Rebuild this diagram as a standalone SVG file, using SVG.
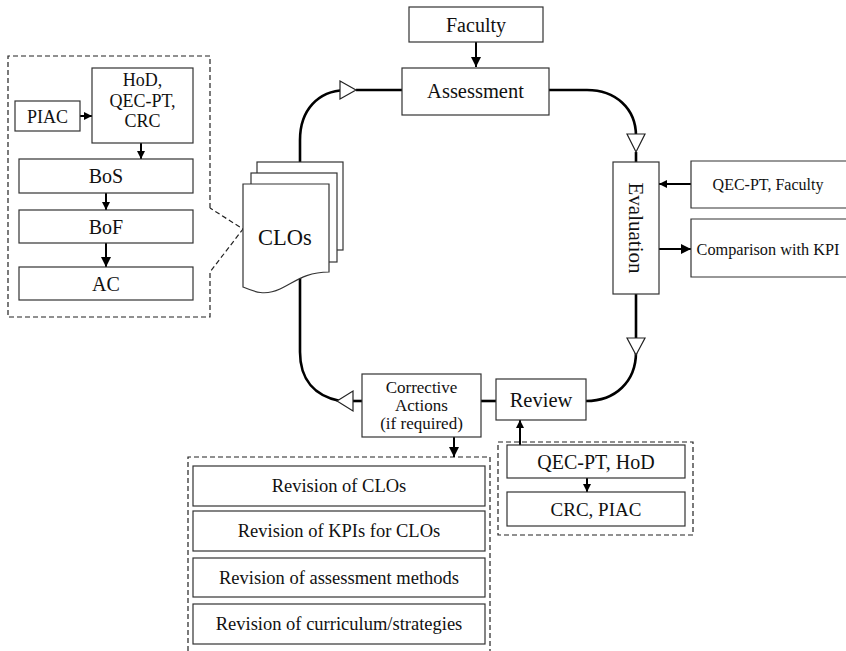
<svg xmlns="http://www.w3.org/2000/svg" width="846" height="651" viewBox="0 0 846 651">
  <defs>
    <marker id="head" markerUnits="userSpaceOnUse" markerWidth="11" markerHeight="11" refX="10" refY="5" orient="auto">
      <path d="M0,0 L10,5 L0,10 Z" fill="#000"/>
    </marker>
    <marker id="headSm" markerUnits="userSpaceOnUse" markerWidth="9" markerHeight="9" refX="8" refY="4" orient="auto">
      <path d="M0,0 L8,4 L0,8 Z" fill="#000"/>
    </marker>
  </defs>
  <style>
    .box { fill: #fff; stroke: #333; stroke-width: 1.2; }
    .dash { fill: none; stroke: #222; stroke-width: 1.2; stroke-dasharray: 5 3; }
    .loop { fill: none; stroke: #000; stroke-width: 2.6; }
    .tri { fill: #fff; stroke: #222; stroke-width: 1.2; }
    .arr { fill: none; stroke: #000; stroke-width: 2; }
    text { font-family: "Liberation Serif", "Times New Roman", serif; fill: #111; text-anchor: middle; }
  </style>
  <rect width="846" height="651" fill="#fff"/>

  <!-- dashed group frames -->
  <g id="frames">
    <path class="dash" d="M210,208 V56 H8 V317 H210 V272 L243,229 L210,208"/>
    <path class="dash" d="M188,651 V457 H490 V651"/>
    <rect class="dash" x="498" y="442" width="195" height="93"/>
  </g>

  <!-- connectors -->
  <g id="connectors">
    <!-- main cycle -->
    <path class="loop" d="M300,163 V140 C300,110 318,91 345,90"/>
    <line class="loop" x1="356" y1="90" x2="402" y2="90"/>
    <path class="loop" d="M549,90 H587 C615,90 636,108 636,136"/>
    <line class="loop" x1="636" y1="152" x2="636" y2="162"/>
    <line class="loop" x1="636" y1="294" x2="636" y2="340"/>
    <path class="loop" d="M636,352 C636,382 615,401 586,401"/>
    <line class="loop" x1="481" y1="401" x2="496" y2="401"/>
    <line class="loop" x1="353" y1="401" x2="362" y2="401"/>
    <path class="loop" d="M300,278 V352 C300,380 315,396 340,401"/>
    <!-- hollow direction heads -->
    <polygon class="tri" points="340,81 356,90 340,99"/>
    <polygon class="tri" points="627,134 645,134 636,152"/>
    <polygon class="tri" points="627,338 645,338 636,355"/>
    <polygon class="tri" points="353,391 353,411 337,401"/>
    <!-- side arrows -->
    <line class="arr" x1="476" y1="42" x2="476" y2="67" marker-end="url(#head)"/>
    <line class="arr" x1="80" y1="116" x2="92" y2="116" marker-end="url(#headSm)"/>
    <line class="arr" x1="141" y1="143" x2="141" y2="159" marker-end="url(#headSm)"/>
    <line class="arr" x1="106" y1="193" x2="106" y2="210" marker-end="url(#headSm)"/>
    <line class="arr" x1="106" y1="243" x2="106" y2="267" marker-end="url(#head)"/>
    <line class="arr" x1="691" y1="184" x2="659" y2="184" marker-end="url(#headSm)"/>
    <line class="arr" x1="659" y1="249" x2="691" y2="249" marker-end="url(#head)"/>
    <line class="arr" x1="454" y1="437" x2="454" y2="457" marker-end="url(#head)"/>
    <line class="arr" x1="520" y1="445" x2="520" y2="420" marker-end="url(#headSm)"/>
    <line class="arr" x1="587" y1="478" x2="587" y2="492" marker-end="url(#headSm)"/>
  </g>

  <!-- approval chain -->
  <g id="piac">
    <rect class="box" x="15" y="101" width="65" height="30"/>
    <text x="47.5" y="122.5" font-size="18">PIAC</text>
  </g>
  <g id="hod-qec-crc">
    <rect class="box" x="92" y="68" width="101" height="75"/>
    <text x="142.5" y="86" font-size="18">HoD,</text>
    <text x="142.5" y="106.5" font-size="18">QEC-PT,</text>
    <text x="142.5" y="127" font-size="18">CRC</text>
  </g>
  <g id="bos">
    <rect class="box" x="19" y="159" width="174" height="34"/>
    <text x="106" y="183" font-size="20">BoS</text>
  </g>
  <g id="bof">
    <rect class="box" x="19" y="210" width="174" height="33"/>
    <text x="106" y="233.5" font-size="20">BoF</text>
  </g>
  <g id="ac">
    <rect class="box" x="19" y="267" width="174" height="33"/>
    <text x="106" y="290.5" font-size="20">AC</text>
  </g>

  <!-- CLOs document stack -->
  <g id="clos">
    <rect class="box" x="257" y="162" width="86" height="88"/>
    <rect class="box" x="251" y="173" width="86" height="89"/>
    <path class="box" d="M243,184 H329 V272 C305,272 295,282 280,289 C265,296 255,292 243,287 Z"/>
    <text x="285" y="245" font-size="22.5">CLOs</text>
  </g>

  <!-- cycle stages -->
  <g id="faculty">
    <rect class="box" x="409" y="7" width="134" height="35"/>
    <text x="476" y="31.5" font-size="20">Faculty</text>
  </g>
  <g id="assessment">
    <rect class="box" x="402" y="68" width="147" height="47"/>
    <text x="475.5" y="98" font-size="20.5">Assessment</text>
  </g>
  <g id="evaluation">
    <rect class="box" x="613" y="162" width="46" height="132"/>
    <text transform="translate(636,228) rotate(90)" x="0" y="7" font-size="21">Evaluation</text>
  </g>
  <g id="qec-faculty">
    <path class="box" d="M846,161 H691 V208 H846"/>
    <text x="768" y="190" font-size="16">QEC-PT, Faculty</text>
  </g>
  <g id="comparison">
    <path class="box" d="M846,219 H691 V277 H846"/>
    <text x="768" y="254.5" font-size="16.3">Comparison with KPI</text>
  </g>
  <g id="review">
    <rect class="box" x="496" y="379" width="90" height="41"/>
    <text x="541" y="407" font-size="20.5">Review</text>
  </g>
  <g id="corrective">
    <rect class="box" x="362" y="374" width="119" height="63"/>
    <text x="421.5" y="393" font-size="17">Corrective</text>
    <text x="421.5" y="411" font-size="17">Actions</text>
    <text x="421.5" y="429" font-size="17">(if required)</text>
  </g>

  <!-- corrective action options -->
  <g id="rev-clos">
    <rect class="box" x="193" y="466" width="292" height="40"/>
    <text x="339" y="492" font-size="18.5">Revision of CLOs</text>
  </g>
  <g id="rev-kpis">
    <rect class="box" x="193" y="511" width="292" height="40"/>
    <text x="339" y="537" font-size="18.5">Revision of KPIs for CLOs</text>
  </g>
  <g id="rev-methods">
    <rect class="box" x="193" y="558" width="292" height="39"/>
    <text x="339" y="583.5" font-size="18.5">Revision of assessment methods</text>
  </g>
  <g id="rev-curriculum">
    <rect class="box" x="193" y="604" width="292" height="40"/>
    <text x="339" y="630" font-size="18.5">Revision of curriculum/strategies</text>
  </g>

  <!-- review bodies -->
  <g id="qec-hod">
    <rect class="box" x="507" y="445" width="178" height="33"/>
    <text x="596" y="468.5" font-size="20">QEC-PT, HoD</text>
  </g>
  <g id="crc-piac">
    <rect class="box" x="507" y="492" width="178" height="34"/>
    <text x="596" y="515.5" font-size="19">CRC, PIAC</text>
  </g>
</svg>
